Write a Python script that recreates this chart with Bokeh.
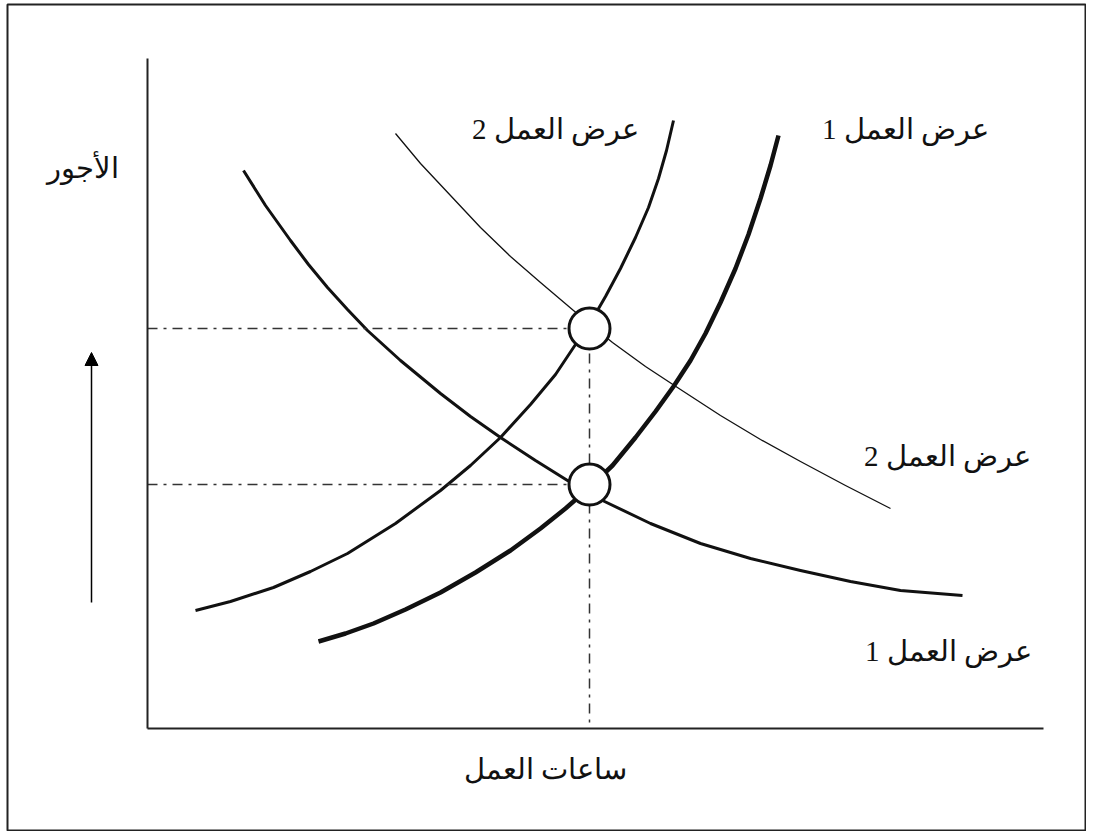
from bokeh.plotting import figure
from bokeh.models import Range1d, Arrow, NormalHead, ColumnDataSource
from bokeh.core.properties import value
from bokeh.embed import file_html
from bokeh.resources import INLINE

# ---- data (hours of work on x, wage on y) ----
curve_a_x = [96, 118, 143, 161, 180, 200, 220, 253, 293, 323, 353, 388, 420, 455, 503, 553,
             603, 653, 703, 753, 815]
curve_a_y = [558, 523, 488, 464, 441, 419, 398, 368, 335, 312, 291, 268, 248, 228, 205, 185,
             170, 158, 147, 138, 133]

curve_b_x = [248, 273, 303, 333, 363, 393, 426, 465, 498, 533, 573, 613, 653, 698, 743]
curve_b_y = [595, 565, 533, 501, 472, 446, 418, 386, 362, 339, 313, 289, 267, 243, 220]

curve_c_x = [48, 83, 126, 163, 200, 248, 293, 323, 353, 383, 408, 426, 443, 458, 473, 488,
             501, 511, 519, 526]
curve_c_y = [118, 127, 141, 157, 175, 205, 238, 263, 291, 324, 354, 381, 406, 432, 460, 491,
             521, 550, 578, 608]

curve_d_x = [171, 198, 226, 258, 293, 328, 363, 393, 418, 442, 465, 488, 508, 526, 543, 558,
             573, 588, 601, 613, 623, 631]
curve_d_y = [87, 95, 105, 119, 136, 156, 178, 200, 220, 241, 263, 291, 317, 342, 368, 395,
             426, 460, 494, 530, 563, 593]

eq_x = [442, 442]
eq_y = [244, 400]

axis_x_len = 896
axis_y_len = 670

arrow_x = [-56]
arrow_y_start = [126]
arrow_y_end = [376]

label_text = ["الأجور", "عرض العمل 2", "عرض العمل 1", "عرض العمل 2", "عرض العمل 1", "ساعات العمل"]
label_x = [-65, 408, 758, 800, 801, 398]
label_y = [561, 600, 600, 273, 78, -40]

# ---- figure ----
p = figure(width=1086, height=831, x_range=Range1d(-140, 939), y_range=Range1d(-103, 724),
           output_backend="svg", toolbar_location=None,
           min_border_left=7, min_border_top=4, min_border_right=0, min_border_bottom=0)
p.grid.visible = False
p.background_fill_color = "white"
p.border_fill_color = "white"
p.outline_line_color = "#222222"
p.outline_line_width = 2

for ax in (p.xaxis[0], p.yaxis[0]):
    ax.fixed_location = 0
    ax.ticker = []
    ax.major_tick_line_color = None
    ax.minor_tick_line_color = None
    ax.major_label_text_color = None
    ax.axis_line_width = 2
    ax.axis_line_color = "#222222"
p.xaxis.bounds = (0, axis_x_len)
p.yaxis.bounds = (0, axis_y_len)

# curves
p.line(curve_a_x, curve_a_y, line_color="#111111", line_width=3, line_join="round")
p.line(curve_b_x, curve_b_y, line_color="#111111", line_width=1.3, line_join="round")
p.line(curve_c_x, curve_c_y, line_color="#111111", line_width=3, line_join="round")
p.line(curve_d_x, curve_d_y, line_color="#111111", line_width=4.5, line_join="round")

# dash-dot guides
p.segment(x0=[0, 0], y0=eq_y, x1=eq_x, y1=eq_y, line_color="#333333", line_width=1.5,
          line_dash="10 6 3 6")
p.segment(x0=[eq_x[1]], y0=[eq_y[1]], x1=[eq_x[1]], y1=[0], line_color="#333333",
          line_width=1.5, line_dash="10 6 3 6")

# equilibrium circles
p.scatter(eq_x, eq_y, marker="circle", size=41, fill_color="white", line_color="#111111",
          line_width=3)

# arrow
p.add_layout(Arrow(end=NormalHead(size=13, fill_color="black", line_color="black"),
                   x_start=arrow_x[0], y_start=arrow_y_start[0],
                   x_end=arrow_x[0], y_end=arrow_y_end[0],
                   line_color="black", line_width=1.5))

# labels
src = ColumnDataSource(dict(x=label_x, y=label_y, t=label_text))
p.text(x="x", y="y", text="t", source=src, text_font=value("Liberation Serif"),
       text_font_size="29px", text_align="center", text_baseline="middle", text_color="#111111")

open("out.html", "w").write(file_html(p, INLINE))
